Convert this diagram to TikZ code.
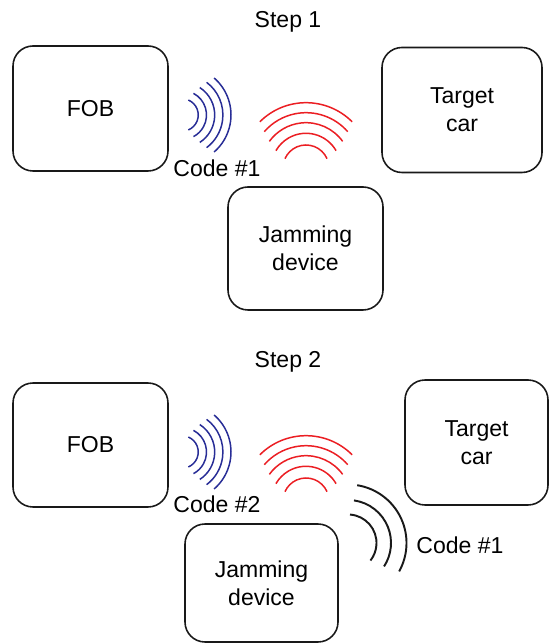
\documentclass[tikz,border=0pt]{standalone}
\usepackage{fontspec}
\setmainfont{Liberation Sans}
\definecolor{wavblue}{RGB}{40,45,150}
\definecolor{wavred}{RGB}{235,30,35}
\definecolor{wavblack}{RGB}{25,25,25}

\begin{document}
\begin{tikzpicture}[font=\fontsize{13.1}{16}\selectfont,
    box/.style={draw=wavblack, line width=0.9pt, rounded corners=0.4cm,
        minimum width=3.1cm, minimum height=2.5cm, align=center, inner sep=0pt},
    bluewave/.style={draw=wavblue, line width=0.85pt},
    redwave/.style={draw=wavred, line width=0.85pt},
    blackwave/.style={draw=wavblack, line width=1.1pt}]
            \useasboundingbox (0,0) rectangle (11,12.88);
            % step 1
            \node(stepA) at (5.76,12.44) {Step 1};
            \node[box](fobA) at (1.81,10.71) {FOB};
            \node[box, minimum width=3.2cm](carA) at (9.24,10.68) {Target\\car};
            \node[box, minimum height=2.46cm](jamA) at (6.11,7.91) {Jamming\\device};
            \node(codeA) at (4.34,9.52) {Code \#1};
            \coordinate (blueA) at (3.64,10.58);
            \coordinate (redA) at (6.12,9.52);
            \foreach \r/\a in {0.325/67,0.49/62,0.654/57,0.818/53,0.98/49}
                \draw[bluewave] (blueA) ++(\a:\r) arc[start angle=\a, end angle=-\a, radius=\r];
            \foreach \r/\a in {0.46/24,0.694/30,0.906/36,1.106/41,1.306/45}
                \draw[redwave] (redA) ++(\a:\r) arc[start angle=\a, end angle=180-\a, radius=\r];
            % step 2
            \node(stepB) at (5.76,5.64) {Step 2};
            \node[box, minimum height=2.48cm](fobB) at (1.81,3.98) {FOB};
            \node[box, minimum width=2.86cm](carB) at (9.53,4.03) {Target\\car};
            \node[box, minimum width=3.06cm, minimum height=2.36cm](jamB) at (5.23,1.22) {Jamming\\device};
            \node(codeB) at (4.34,2.8) {Code \#2};
            \node(codeC) at (9.2,1.98) {Code \#1};
            \coordinate (blueB) at (3.64,3.84);
            \coordinate (redB) at (6.12,2.86);
            \coordinate (blackB) at (6.96,2.02);
            \foreach \r/\a in {0.325/67,0.49/62,0.654/57,0.818/53,0.98/49}
                \draw[bluewave] (blueB) ++(\a:\r) arc[start angle=\a, end angle=-\a, radius=\r];
            \foreach \r/\a in {0.46/24,0.694/30,0.906/36,1.106/41,1.306/45}
                \draw[redwave] (redB) ++(\a:\r) arc[start angle=\a, end angle=180-\a, radius=\r];
            \foreach \r/\s/\e in {0.57/86/-38,0.86/82/-33,1.17/81/-29}
                \draw[blackwave] (blackB) ++(\s:\r) arc[start angle=\s, end angle=\e, radius=\r];
        \end{tikzpicture}
\end{document}
